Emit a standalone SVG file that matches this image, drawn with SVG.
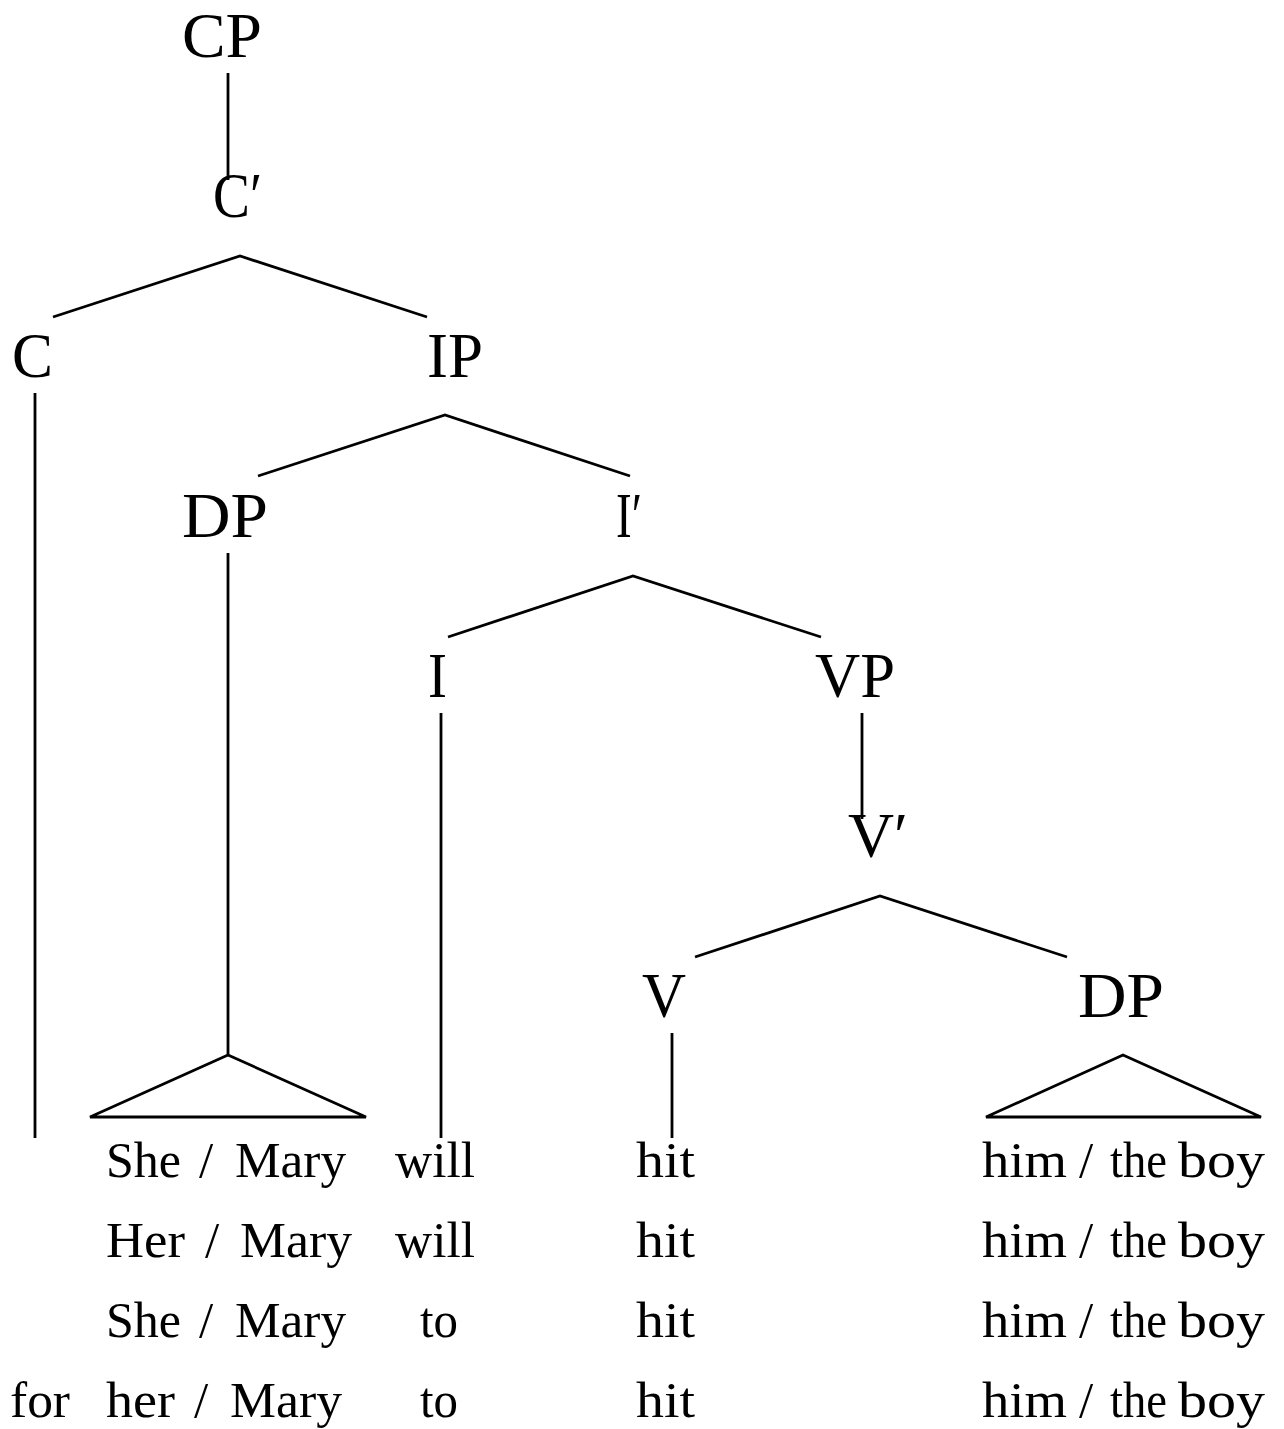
<svg xmlns="http://www.w3.org/2000/svg" width="1284" height="1429" viewBox="0 0 1284 1429">
<style>
.lbl{font-family:"Liberation Serif","Times New Roman",serif;font-size:63px;fill:#000}
.w{font-family:"Liberation Serif","Times New Roman",serif;font-size:51px;fill:#000}
.ln{stroke:#000;stroke-width:2.8;fill:none;stroke-linecap:butt;stroke-linejoin:miter}
</style>
<rect width="1284" height="1429" fill="#fff"/>
<g id="connectors">
<line class="ln" x1="228" y1="73" x2="228" y2="180"/>
<polyline class="ln" points="53,317 240,256 427,317"/>
<line class="ln" x1="35" y1="393" x2="35" y2="1138"/>
<polyline class="ln" points="258,476 445,415 630,476"/>
<line class="ln" x1="228" y1="553" x2="228" y2="1055"/>
<polygon class="ln" points="228,1055 90,1117 366,1117"/>
<polyline class="ln" points="448,637 633,576 821,637"/>
<line class="ln" x1="441" y1="713" x2="441" y2="1138"/>
<line class="ln" x1="862" y1="713" x2="862" y2="819"/>
<polyline class="ln" points="695,957 880,896 1067,957"/>
<line class="ln" x1="672" y1="1033" x2="672" y2="1138"/>
<polygon class="ln" points="1123,1055 986,1117 1261,1117"/>
</g>
<g id="CP"><text class="lbl" x="182" y="57" textLength="80" lengthAdjust="spacingAndGlyphs">CP</text></g>
<g id="Cbar"><text class="lbl" x="213" y="217" textLength="49" lengthAdjust="spacingAndGlyphs">C′</text></g>
<g id="C"><text class="lbl" x="12" y="377" textLength="41" lengthAdjust="spacingAndGlyphs">C</text></g>
<g id="IP"><text class="lbl" x="427" y="377" textLength="56" lengthAdjust="spacingAndGlyphs">IP</text></g>
<g id="DP1"><text class="lbl" x="182" y="537" textLength="86" lengthAdjust="spacingAndGlyphs">DP</text></g>
<g id="Ibar"><text class="lbl" x="616" y="537" textLength="26" lengthAdjust="spacingAndGlyphs">I′</text></g>
<g id="I"><text class="lbl" x="428" y="697" textLength="19" lengthAdjust="spacingAndGlyphs">I</text></g>
<g id="VP"><text class="lbl" x="815" y="697" textLength="80" lengthAdjust="spacingAndGlyphs">VP</text></g>
<g id="Vbar"><text class="lbl" x="848" y="857" textLength="60" lengthAdjust="spacingAndGlyphs">V′</text></g>
<g id="V"><text class="lbl" x="642" y="1017" textLength="44" lengthAdjust="spacingAndGlyphs">V</text></g>
<g id="DP2"><text class="lbl" x="1078" y="1017" textLength="86" lengthAdjust="spacingAndGlyphs">DP</text></g>
<g id="row1">
<text class="w" x="106" y="1177" textLength="75" lengthAdjust="spacingAndGlyphs">She</text>
<text class="w" x="199" y="1177">/</text>
<text class="w" x="235" y="1177" textLength="111" lengthAdjust="spacingAndGlyphs">Mary</text>
<text class="w" x="395" y="1177" textLength="80" lengthAdjust="spacingAndGlyphs">will</text>
<text class="w" x="636" y="1177" textLength="59" lengthAdjust="spacingAndGlyphs">hit</text>
<text class="w" x="982" y="1177" textLength="85" lengthAdjust="spacingAndGlyphs">him</text>
<text class="w" x="1079" y="1177">/</text>
<text class="w" x="1110" y="1177" textLength="57" lengthAdjust="spacingAndGlyphs">the</text>
<text class="w" x="1178" y="1177" textLength="87" lengthAdjust="spacingAndGlyphs">boy</text>
</g>
<g id="row2">
<text class="w" x="106" y="1257" textLength="79" lengthAdjust="spacingAndGlyphs">Her</text>
<text class="w" x="205" y="1257">/</text>
<text class="w" x="240" y="1257" textLength="112" lengthAdjust="spacingAndGlyphs">Mary</text>
<text class="w" x="395" y="1257" textLength="80" lengthAdjust="spacingAndGlyphs">will</text>
<text class="w" x="636" y="1257" textLength="59" lengthAdjust="spacingAndGlyphs">hit</text>
<text class="w" x="982" y="1257" textLength="85" lengthAdjust="spacingAndGlyphs">him</text>
<text class="w" x="1079" y="1257">/</text>
<text class="w" x="1110" y="1257" textLength="57" lengthAdjust="spacingAndGlyphs">the</text>
<text class="w" x="1178" y="1257" textLength="87" lengthAdjust="spacingAndGlyphs">boy</text>
</g>
<g id="row3">
<text class="w" x="106" y="1337" textLength="75" lengthAdjust="spacingAndGlyphs">She</text>
<text class="w" x="199" y="1337">/</text>
<text class="w" x="235" y="1337" textLength="111" lengthAdjust="spacingAndGlyphs">Mary</text>
<text class="w" x="420" y="1337" textLength="38" lengthAdjust="spacingAndGlyphs">to</text>
<text class="w" x="636" y="1337" textLength="59" lengthAdjust="spacingAndGlyphs">hit</text>
<text class="w" x="982" y="1337" textLength="85" lengthAdjust="spacingAndGlyphs">him</text>
<text class="w" x="1079" y="1337">/</text>
<text class="w" x="1110" y="1337" textLength="57" lengthAdjust="spacingAndGlyphs">the</text>
<text class="w" x="1178" y="1337" textLength="87" lengthAdjust="spacingAndGlyphs">boy</text>
</g>
<g id="row4">
<text class="w" x="10" y="1417" textLength="60" lengthAdjust="spacingAndGlyphs">for</text>
<text class="w" x="106" y="1417" textLength="69" lengthAdjust="spacingAndGlyphs">her</text>
<text class="w" x="194" y="1417">/</text>
<text class="w" x="230" y="1417" textLength="112" lengthAdjust="spacingAndGlyphs">Mary</text>
<text class="w" x="420" y="1417" textLength="38" lengthAdjust="spacingAndGlyphs">to</text>
<text class="w" x="636" y="1417" textLength="59" lengthAdjust="spacingAndGlyphs">hit</text>
<text class="w" x="982" y="1417" textLength="85" lengthAdjust="spacingAndGlyphs">him</text>
<text class="w" x="1079" y="1417">/</text>
<text class="w" x="1110" y="1417" textLength="57" lengthAdjust="spacingAndGlyphs">the</text>
<text class="w" x="1178" y="1417" textLength="87" lengthAdjust="spacingAndGlyphs">boy</text>
</g>
</svg>
